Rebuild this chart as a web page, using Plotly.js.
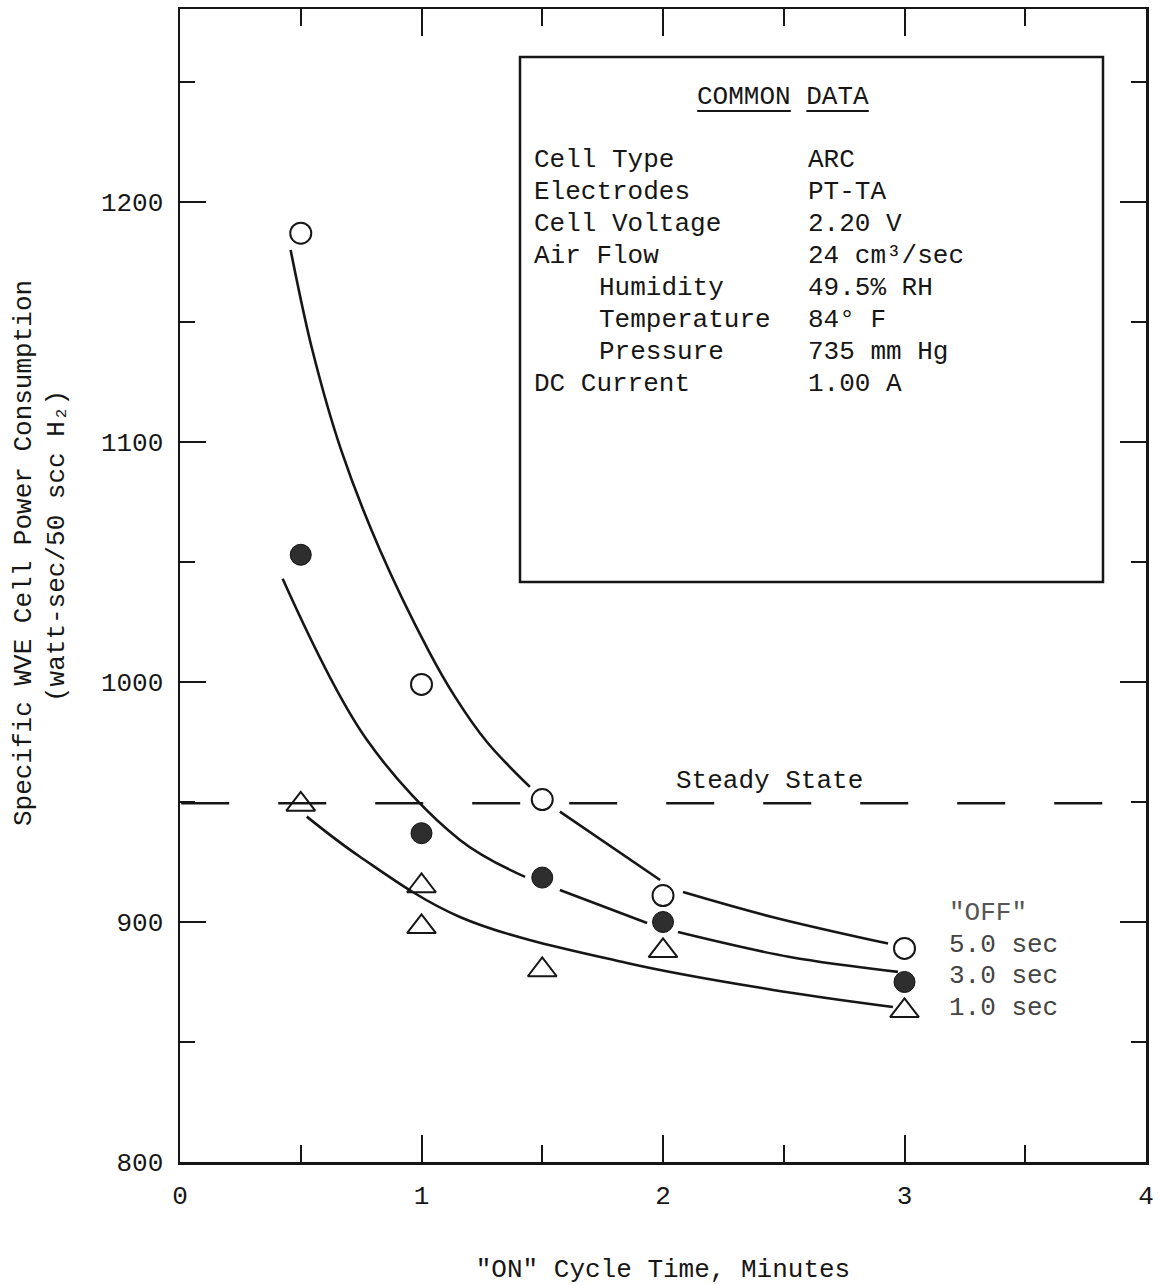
<!DOCTYPE html>
<html><head><meta charset="utf-8">
<script src="https://cdn.plot.ly/plotly-3.0.1.min.js"></script>
<style>html,body{margin:0;padding:0;background:#fff}</style>
</head><body><div id="chart" style="width:1161px;height:1285px"></div>
<script>
// ---- data ----
const onTimes = [0.5, 1, 1.5, 2, 3];
const off5Values = [1187, 999, 951, 911, 889];
const off3Values = [1053, 937, 918.5, 900, 875];
const off1Times = [0.5, 1, 1, 1.5, 2, 3];
const off1Values = [949, 915, 898, 880, 888, 863];

// hand-drawn fitted curves (null = pen gap around a marker)
const curve5X = [0.458, 0.548, 0.667, 0.828, 1.028, 1.139, 1.271, 1.449, null, 1.573, 1.988, null, 2.083, 2.456, 2.932];
const curve5Y = [1180, 1138.3, 1096.7, 1055, 1013.3, 993.8, 975, 956.3, null, 946, 917.5, null, 912.5, 902, 891];
const curve3X = [0.425, 0.773, 1.159, 1.429, null, 1.573, 1.934, null, 2.062, 2.526, 2.973];
const curve3Y = [1043, 976, 934.2, 918.8, null, 913.3, 899.6, null, 895.8, 885.4, 879.2];
const curve1X = [0.525, 0.745, 1.159, 1.851, 2.456, 2.952];
const curve1Y = [943.9, 927.2, 902.1, 882.9, 871.7, 864.6];

const steadyStateX = [0.005, 3.82];
const steadyStateY = [949.5, 949.5];
const steadyStateLabel = 'Steady State';

const offHeader = '"OFF"';
const offLabels = ['5.0 sec', '3.0 sec', '1.0 sec'];

const commonTitleWords = ['COMMON', 'DATA'];
const commonLabels = ['Cell Type', 'Electrodes', 'Cell Voltage', 'Air Flow',
  '    Humidity', '    Temperature', '    Pressure', 'DC Current'];
const commonValues = ['ARC', 'PT-TA', '2.20 V', '24 cm\u00B3/sec', '49.5% RH', '84\u00B0 F', '735 mm Hg', '1.00 A'];

const xTitle = '"ON" Cycle Time, Minutes';
const yTitle1 = 'Specific WVE Cell Power Consumption';
const yTitle2 = '(watt-sec/50 scc H\u2082)';

// ---- layout helpers ----
const W = 1161, H = 1285;
const L = 180, R = 1146, T = 9, B = 1162;
const px = v => (v - L) / (R - L);
const py = v => (B - v) / (B - T);
const FONT = '"Liberation Mono", "DejaVu Sans Mono", monospace';
const INK = '#161616';
const CHAR_W = 15.6;

const curveLine = {color: INK, width: 2.6, shape: 'spline', smoothing: 1};

const traces = [
  {x: curve5X, y: curve5Y, mode: 'lines', line: curveLine, connectgaps: false, hoverinfo: 'skip', name: 'fit 5.0 sec'},
  {x: curve3X, y: curve3Y, mode: 'lines', line: curveLine, connectgaps: false, hoverinfo: 'skip', name: 'fit 3.0 sec'},
  {x: curve1X, y: curve1Y, mode: 'lines', line: curveLine, connectgaps: false, hoverinfo: 'skip', name: 'fit 1.0 sec'},
  {x: steadyStateX, y: steadyStateY, mode: 'lines', line: {color: INK, width: 2.6, dash: '48px,49px'}, name: steadyStateLabel},
  {x: onTimes, y: off5Values, mode: 'markers', name: offLabels[0],
   marker: {symbol: 'circle-open', size: 21, color: INK, line: {width: 2}}},
  {x: onTimes, y: off3Values, mode: 'markers', name: offLabels[1],
   marker: {symbol: 'circle', size: 21, color: '#2e2e2e', line: {width: 1, color: '#111'}}},
  {x: off1Times, y: off1Values, mode: 'markers', name: offLabels[2],
   marker: {symbol: 'triangle-up-open', size: 25, color: INK, line: {width: 2}}}
];

const annotations = [];
const shapes = [{type: 'rect', xref: 'paper', yref: 'paper', x0: px(520), x1: px(1103), y0: py(582), y1: py(57),
  line: {color: INK, width: 2.5}, fillcolor: 'rgba(0,0,0,0)'}];

// y-axis title (two rotated lines)
annotations.push({xref: 'paper', yref: 'paper', x: px(24), y: py(553), text: yTitle1, textangle: -90,
  showarrow: false, xanchor: 'center', yanchor: 'middle', font: {family: FONT, size: 26, color: INK}});
annotations.push({xref: 'paper', yref: 'paper', x: px(57), y: py(546), text: yTitle2, textangle: -90,
  showarrow: false, xanchor: 'center', yanchor: 'middle', font: {family: FONT, size: 26, color: INK}});

// common data box: title words, each underlined
const titleText = commonTitleWords.join(' ');
let cx = 783 - titleText.length * CHAR_W / 2;
annotations.push({xref: 'paper', yref: 'paper', x: px(783), y: py(97), text: titleText, showarrow: false,
  xanchor: 'center', yanchor: 'middle', font: {family: FONT, size: 26, color: INK}});
commonTitleWords.forEach(w => {
  shapes.push({type: 'line', xref: 'paper', yref: 'paper', x0: px(cx), x1: px(cx + w.length * CHAR_W),
    y0: py(111), y1: py(111), line: {color: INK, width: 2}});
  cx += (w.length + 1) * CHAR_W;
});
commonLabels.forEach((lab, i) => {
  const yy = py(160 + i * 32);
  const indent = lab.length - lab.trimStart().length;
  annotations.push({xref: 'paper', yref: 'paper', x: px(532 + indent * CHAR_W * 1.04), y: yy, text: lab.trim(), showarrow: false,
    xanchor: 'left', yanchor: 'middle', font: {family: FONT, size: 26, color: INK}});
  annotations.push({xref: 'paper', yref: 'paper', x: px(806), y: yy, text: commonValues[i], showarrow: false,
    xanchor: 'left', yanchor: 'middle', font: {family: FONT, size: 26, color: INK}});
});
// steady state label
annotations.push({xref: 'paper', yref: 'paper', x: px(674), y: py(781), text: steadyStateLabel, showarrow: false,
  xanchor: 'left', yanchor: 'middle', font: {family: FONT, size: 26, color: INK}});
// OFF labels
annotations.push({xref: 'paper', yref: 'paper', x: px(947), y: py(913), text: offHeader, showarrow: false,
  xanchor: 'left', yanchor: 'middle', font: {family: FONT, size: 26, color: '#555'}});
offLabels.forEach((lab, i) => {
  annotations.push({xref: 'paper', yref: 'paper', x: px(947), y: py(945 + i * 31.5), text: lab, showarrow: false,
    xanchor: 'left', yanchor: 'middle', font: {family: FONT, size: 26, color: '#444'}});
});

const axisCommon = {
  showline: true, linewidth: 2.5, linecolor: INK, mirror: 'ticks',
  ticks: 'inside', tickwidth: 2, tickcolor: INK,
  showgrid: false, zeroline: false,
  tickfont: {family: FONT, size: 26, color: INK}
};

const layout = {
  width: W, height: H,
  margin: {l: L, r: W - R, t: T, b: H - B, pad: 0},
  paper_bgcolor: '#fff', plot_bgcolor: '#fff',
  showlegend: false,
  font: {family: FONT, size: 26, color: INK},
  xaxis: Object.assign({}, axisCommon, {
    range: [0, 4], tick0: 0, dtick: 1, ticklen: 27,
    minor: {dtick: 0.5, ticks: 'inside', ticklen: 17, tickwidth: 2, tickcolor: INK},
    ticklabelstandoff: 8,
    title: {text: xTitle, standoff: 54, font: {family: FONT, size: 26, color: INK}}
  }),
  yaxis: Object.assign({}, axisCommon, {
    range: [800, 1280.4], tick0: 800, dtick: 100, ticklen: 26,
    minor: {dtick: 50, ticks: 'inside', ticklen: 15, tickwidth: 2, tickcolor: INK},
    ticklabelstandoff: 9
  }),
  shapes: shapes,
  annotations: annotations
};

Plotly.newPlot('chart', traces, layout, {staticPlot: true, displayModeBar: false});
</script>
</body></html>
